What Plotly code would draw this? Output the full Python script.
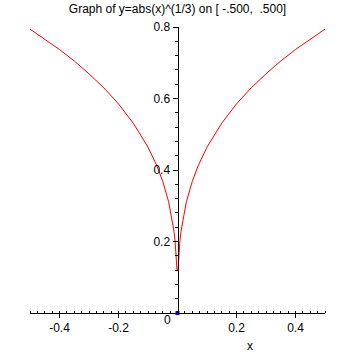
import plotly.graph_objects as go

# Values (left branch, then right branch)
x_left = [-0.5, -0.45, -0.4, -0.35, -0.3, -0.25, -0.2, -0.15, -0.1, -0.07,
          -0.05, -0.03, -0.02, -0.012, -0.008, -0.005, -0.003, -0.0017]
y_left = [0.794, 0.766, 0.737, 0.705, 0.669, 0.630, 0.585, 0.531, 0.464, 0.412,
          0.368, 0.311, 0.271, 0.229, 0.200, 0.171, 0.144, 0.119]
x_right = [0.0017, 0.003, 0.005, 0.008, 0.012, 0.02, 0.03, 0.05, 0.07, 0.1,
           0.15, 0.2, 0.25, 0.3, 0.35, 0.4, 0.45, 0.5]
y_right = [0.119, 0.144, 0.171, 0.200, 0.229, 0.271, 0.311, 0.368, 0.412, 0.464,
           0.531, 0.585, 0.630, 0.669, 0.705, 0.737, 0.766, 0.794]
origin_x = [0]
origin_y = [0]

x_ticks = [-0.4, -0.2, 0.2, 0.4]
x_tick_text = ["-0.4", "-0.2", "0.2", "0.4"]
y_ticks = [0.2, 0.4, 0.6, 0.8]
y_tick_text = ["0.2", "0.4", "0.6", "0.8"]

title_text = "Graph of y=abs(x)^(1/3) on [ -.500, &nbsp;.500]"

font = dict(family="Liberation Sans, Arial, sans-serif", size=12, color="black")

fig = go.Figure()
fig.add_trace(go.Scatter(x=x_left + x_right, y=y_left + y_right, mode="lines",
                         line=dict(color="red", width=1), hoverinfo="skip"))
fig.add_trace(go.Scatter(x=origin_x, y=origin_y, mode="markers",
                         marker=dict(color="blue", size=4, symbol="square"),
                         hoverinfo="skip", cliponaxis=False))

fig.update_layout(
    width=355, height=355,
    margin=dict(l=30, r=30, t=27, b=42),
    paper_bgcolor="white", plot_bgcolor="white",
    showlegend=False,
    font=font,
    title=dict(text=title_text, x=0.5, xref="paper", xanchor="center",
               y=1 - 8.5 / 355, yref="container", yanchor="middle",
               pad=dict(t=0, b=0), font=font),
    xaxis=dict(range=[-0.5, 0.5], showgrid=False, zeroline=False,
               showline=True, linecolor="black", linewidth=1,
               tickmode="array", tickvals=x_ticks, ticktext=x_tick_text,
               ticks="outside", ticklen=4, tickcolor="black",
               minor=dict(dtick=0.025, tick0=0, ticks="inside", ticklen=2,
                          tickcolor="black", showgrid=False),
               tickfont=font, fixedrange=True),
    yaxis=dict(range=[0, 0.8], showgrid=False, zeroline=False,
               showline=True, linecolor="black", linewidth=1,
               anchor="free", position=0.5,
               tickmode="array", tickvals=y_ticks, ticktext=y_tick_text,
               ticks="outside", ticklen=5, tickcolor="black",
               minor=dict(dtick=0.04, tick0=0, ticks="outside", ticklen=3,
                          tickcolor="black", showgrid=False),
               tickfont=font, fixedrange=True),
    annotations=[
        dict(text="0", x=0, y=0, xref="x", yref="y", xanchor="right",
             yanchor="top", xshift=-5, yshift=2, showarrow=False, font=font),
        dict(text="x", x=(250 - 30) / 295, y=-(346 - 313) / 286,
             xref="paper", yref="paper", xanchor="center", yanchor="middle",
             showarrow=False, font=font),
    ],
)

fig.write_html("out.html")
